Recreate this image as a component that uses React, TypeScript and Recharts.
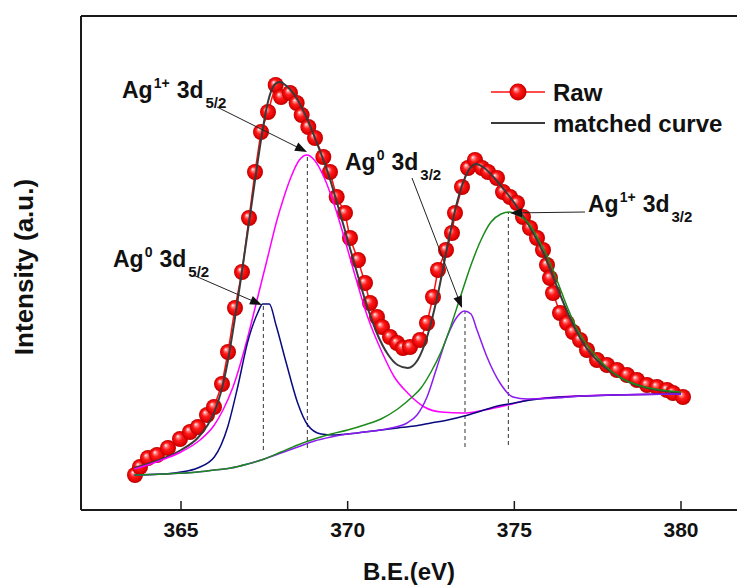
import React from 'react';
import { ComposedChart, Line, XAxis, YAxis, ReferenceLine, ReferenceDot, Legend } from 'recharts';

const FONT = '"Liberation Sans", Arial, Helvetica, sans-serif';

// ---- x axis ticks ----
const xTicks = [365, 370, 375, 380];

// ---- Raw data (B.E. eV / intensity a.u.) ----
const rawE = [363.62, 363.77, 364.01, 364.28, 364.61, 364.97, 365.27, 365.51, 365.78, 365.99, 366.23, 366.41, 366.62, 366.83, 367.04, 367.22, 367.40, 367.61, 367.84, 368.0, 368.27, 368.47, 368.62, 368.82, 369.02, 369.27, 369.47, 369.67, 369.92, 370.07, 370.31, 370.52, 370.67, 370.88, 371.03, 371.27, 371.48, 371.66, 371.87, 372.17, 372.38, 372.56, 372.71, 372.95, 373.13, 373.22, 373.43, 373.61, 373.82, 374.03, 374.21, 374.48, 374.66, 374.87, 375.08, 375.26, 375.47, 375.68, 375.86, 375.98, 376.07, 376.16, 376.37, 376.58, 376.76, 376.97, 377.18, 377.48, 377.78, 378.08, 378.38, 378.68, 378.98, 379.28, 379.58, 379.76, 380.06];
const rawI = [35, 43, 52, 55, 62, 71, 78, 83, 95, 103, 126, 158, 202, 238, 292, 338, 378, 398, 425, 413, 417, 407, 395, 383, 372, 353, 338, 313, 297, 272, 250, 227, 207, 193, 183, 173, 167, 162, 163, 170, 187, 213, 240, 260, 277, 297, 323, 342, 350, 342, 338, 332, 318, 313, 307, 293, 282, 272, 260, 245, 232, 217, 197, 187, 178, 170, 160, 150, 145, 140, 135, 130, 125, 123, 120, 117, 113];

// ---- matched curve ----
const fitE = [363.6, 364.0, 364.5, 365.0, 365.5, 365.8, 366.0, 366.2, 366.4, 366.6, 366.8, 367.0, 367.2, 367.4, 367.6, 367.8, 367.95, 368.2, 368.5, 368.8, 369.1, 369.4, 369.7, 370.0, 370.3, 370.6, 370.9, 371.2, 371.5, 371.8, 372.1, 372.4, 372.7, 373.0, 373.3, 373.6, 373.85, 374.1, 374.4, 374.7, 375.0, 375.3, 375.6, 375.9, 376.2, 376.5, 376.8, 377.1, 377.5, 378.0, 378.5, 379.0, 379.5, 380.0];
const fitI = [42, 46, 52, 60, 72, 85, 98, 118, 148, 188, 232, 278, 325, 370, 407, 425, 428, 423, 410, 390, 365, 338, 305, 270, 235, 202, 175, 156, 145, 142, 150, 175, 215, 265, 310, 338, 346, 342, 332, 320, 307, 292, 275, 255, 230, 205, 183, 165, 149, 136, 127, 122, 119, 117];

// ---- Ag0 3d5/2 component (navy) ----
const ag0d52E = [363.6, 364.5, 365.0, 365.5, 366.0, 366.4, 366.7, 367.0, 367.3, 367.45, 367.65, 367.85, 368.15, 368.5, 368.8, 369.2, 369.6, 370.0, 370.5, 371.0, 371.5, 372.0, 372.5, 373.0, 373.5, 374.0, 374.5, 375.0, 375.5, 376.0, 377.0, 378.0, 380.0];
const ag0d52I = [35, 36, 38, 42, 53, 83, 123, 168, 197, 206, 206, 185, 148, 107, 85, 76, 75, 76, 78, 80, 82, 84, 87, 90, 94, 99, 104, 107, 110, 112, 114, 115, 116];

// ---- Ag1+ 3d5/2 component (magenta) ----
const ag1d52E = [363.6, 364.0, 364.5, 365.0, 365.57, 366.0, 366.26, 366.56, 366.98, 367.28, 367.58, 367.88, 368.06, 368.3, 368.55, 368.78, 369.0, 369.3, 369.6, 369.9, 370.2, 370.6, 371.0, 371.4, 371.8, 372.3, 372.8, 373.5, 374.1, 374.8, 375.4, 376.3, 377.8, 380.0];
const ag1d52I = [41, 45, 51, 58, 70, 85, 100, 123, 170, 210, 250, 290, 310, 333, 350, 355, 350, 332, 305, 272, 237, 193, 160, 133, 117, 103, 98, 97, 100, 105, 110, 113, 115, 116];

// ---- Ag0 3d3/2 component (violet) ----
const ag0d32E = [363.6, 364.5, 365.5, 366.0, 366.5, 367.0, 367.5, 368.0, 368.5, 369.0, 369.5, 370.0, 370.5, 371.0, 371.3, 371.78, 372.08, 372.38, 372.68, 372.98, 373.28, 373.5, 373.7, 373.88, 374.18, 374.57, 374.96, 375.38, 376.28, 377.0, 378.0, 380.0];
const ag0d32I = [35, 36, 38, 40, 42, 46, 51, 57, 63, 69, 73, 76, 78, 80, 82, 87, 95, 113, 143, 173, 193, 199, 196, 180, 153, 127, 113, 111, 112, 114, 115, 116];

// ---- Ag1+ 3d3/2 component (green) ----
const ag1d32E = [363.6, 364.5, 365.5, 366.0, 366.5, 367.0, 367.5, 368.0, 368.5, 369.0, 369.5, 370.0, 370.5, 371.0, 371.5, 371.9, 372.2, 372.5, 372.8, 373.0, 373.4, 373.7, 374.0, 374.3, 374.6, 374.85, 375.1, 375.4, 375.7, 376.0, 376.3, 376.6, 376.9, 377.3, 377.7, 378.2, 378.8, 379.4, 380.0];
const ag1d32I = [35, 36, 38, 40, 42, 46, 51, 58, 65, 71, 76, 80, 85, 91, 101, 112, 122, 138, 158, 175, 215, 245, 270, 288, 296, 298, 295, 288, 272, 253, 228, 202, 180, 160, 145, 132, 124, 120, 118];

// ---- peak positions (dashed markers) ----
const peakE = [367.47, 368.79, 373.52, 374.82];
const peakTop = [207, 355, 199, 298];
const peakBase = [60, 62, 63, 65];

// ---- annotation labels ----
const annSup = ['1+', '0', '0', '1+'];
const annSub = ['5/2', '5/2', '3/2', '3/2'];
const annTextE = [363.23, 362.96, 369.92, 377.21];
const annTextI = [412, 243, 340, 298];
const annFromE = [366.08, 365.36, 371.93, 377.12];
const annFromI = [403, 235, 332, 298];
const annToE = [368.78, 367.43, 373.43, 374.87];
const annToI = [358, 205, 202, 297];

const toPts = (es: number[], vs: number[]) => es.map((e, i) => ({ e, v: vs[i] }));

const rawData = toPts(rawE, rawI);
const fitData = toPts(fitE, fitI);
const navyData = toPts(ag0d52E, ag0d52I);
const magData = toPts(ag1d52E, ag1d52I);
const violetData = toPts(ag0d32E, ag0d32I);
const greenData = toPts(ag1d32E, ag1d32I);

const AXIS = '#1a1a1a';
const TOPZ = 1500;

const renderBall = (p: any) => (
  <circle key={`ball-${p.index}`} cx={p.cx} cy={p.cy} r={8} fill="url(#ballGrad)" />
);

const Arrow = (p: any) => {
  const { x1, y1, x2, y2 } = p;
  const dx = x2 - x1;
  const dy = y2 - y1;
  const len = Math.sqrt(dx * dx + dy * dy) || 1;
  const ux = dx / len;
  const uy = dy / len;
  const L = 12;
  const W = 4.5;
  const bx = x2 - ux * L;
  const by = y2 - uy * L;
  const pts = `${x2},${y2} ${bx - uy * W},${by + ux * W} ${bx + uy * W},${by - ux * W}`;
  return (
    <g>
      <line x1={x1} y1={y1} x2={bx + ux * 2} y2={by + uy * 2} stroke="#222" strokeWidth={1} />
      <polygon points={pts} fill="#111" />
    </g>
  );
};

const makeAnnText = (sup: string, sub: string) => (p: any) => (
  <text x={p.cx} y={p.cy} fontFamily={FONT} fontWeight="bold" fontSize={23} fill="#111">
    <tspan>Ag</tspan>
    <tspan dx={1} dy={-10} fontSize={14}>{sup}</tspan>
    <tspan dx={7} dy={10} fontSize={23}>3d</tspan>
    <tspan dx={2} dy={10} fontSize={15}>{sub}</tspan>
  </text>
);

const renderLegend = () => (
  <svg width={240} height={64} style={{ display: 'block', overflow: 'visible' }}>
    <line x1={3} y1={16} x2={57} y2={16} stroke="#ff1010" strokeWidth={1.5} />
    <circle cx={30} cy={16} r={8.5} fill="url(#ballGrad)" />
    <text x={65} y={24.5} fontSize={24} fontWeight="bold" fontFamily={FONT} fill="#111">Raw</text>
    <line x1={3} y1={47} x2={57} y2={47} stroke="#3a3a3a" strokeWidth={2} />
    <text x={65} y={55.5} fontSize={24} fontWeight="bold" fontFamily={FONT} fill="#111">matched curve</text>
  </svg>
);

export default function App() {
  return (
    <div style={{ position: 'absolute', left: 0, top: 0, width: 737, height: 586, background: '#fff', overflow: 'hidden' }}>
      <ComposedChart width={737} height={586} margin={{ top: 16, right: 0, bottom: 36, left: 41 }}>
        <defs>
          <radialGradient id="ballGrad" cx="50%" cy="50%" r="50%" fx="35%" fy="32%">
            <stop offset="0%" stopColor="#ffffff" />
            <stop offset="18%" stopColor="#ff8a8a" />
            <stop offset="45%" stopColor="#ff1a1a" />
            <stop offset="85%" stopColor="#e00000" />
            <stop offset="100%" stopColor="#b00000" />
          </radialGradient>
        </defs>
        <XAxis
          dataKey="e"
          type="number"
          domain={[362, 381.68]}
          allowDataOverflow
          ticks={xTicks}
          height={40}
          tickSize={-9}
          tickMargin={21}
          axisLine={{ stroke: AXIS, strokeWidth: 2 }}
          tickLine={{ stroke: AXIS, strokeWidth: 1.5 }}
          tick={{ fontSize: 21, fontWeight: 'bold', fill: '#111', fontFamily: FONT }}
          label={{
            content: (props: any) => {
              const vb = props.viewBox || { x: 81, y: 510, width: 656, height: 40 };
              return (
                <text x={vb.x + vb.width / 2} y={vb.y + 70} textAnchor="middle" fontSize={24} fontWeight="bold" fontFamily={FONT} fill="#111">
                  B.E.(eV)
                </text>
              );
            },
          }}
        />
        <YAxis
          type="number"
          domain={[0, 494]}
          allowDataOverflow
          width={40}
          tick={false}
          tickLine={false}
          axisLine={{ stroke: AXIS, strokeWidth: 2 }}
          label={{
            content: (props: any) => {
              const vb = props.viewBox || { x: 41, y: 16, width: 40, height: 494 };
              const cx = vb.x + vb.width - 48;
              const cy = vb.y + vb.height / 2 + 4;
              return (
                <text x={cx} y={cy} transform={`rotate(-90, ${cx}, ${cy})`} textAnchor="middle" fontSize={26} fontWeight="bold" fontFamily={FONT} fill="#111">
                  Intensity (a.u.)
                </text>
              );
            },
          }}
        />
        <ReferenceLine y={494} stroke={AXIS} strokeWidth={2} ifOverflow="visible" />

        <Line data={rawData} dataKey="v" type="linear" stroke="#ff1010" strokeWidth={1.5} dot={renderBall} activeDot={false} isAnimationActive={false} legendType="none" />
        <Line data={fitData} dataKey="v" type="monotone" stroke="#3a3a3a" strokeWidth={2} dot={false} activeDot={false} isAnimationActive={false} legendType="none" zIndex={TOPZ} />
        <Line data={magData} dataKey="v" type="monotone" stroke="#ff00ff" strokeWidth={1.5} dot={false} activeDot={false} isAnimationActive={false} legendType="none" zIndex={TOPZ} />
        <Line data={navyData} dataKey="v" type="monotone" stroke="#0a0a80" strokeWidth={1.5} dot={false} activeDot={false} isAnimationActive={false} legendType="none" zIndex={TOPZ} />
        <Line data={violetData} dataKey="v" type="monotone" stroke="#8a1cf0" strokeWidth={1.5} dot={false} activeDot={false} isAnimationActive={false} legendType="none" zIndex={TOPZ} />
        <Line data={greenData} dataKey="v" type="monotone" stroke="#1a8a1a" strokeWidth={1.5} dot={false} activeDot={false} isAnimationActive={false} legendType="none" zIndex={TOPZ} />

        {peakE.map((e, i) => (
          <ReferenceLine
            key={`pk-${i}`}
            segment={[{ x: e, y: peakBase[i] }, { x: e, y: peakTop[i] }]}
            stroke="#333"
            strokeWidth={1}
            strokeDasharray="4 3"
            ifOverflow="visible"
          />
        ))}
        {annSup.map((s, i) => (
          <ReferenceLine
            key={`arr-${i}`}
            segment={[{ x: annFromE[i], y: annFromI[i] }, { x: annToE[i], y: annToI[i] }]}
            shape={Arrow}
            ifOverflow="visible"
            zIndex={TOPZ + 100}
          />
        ))}
        {annSup.map((s, i) => (
          <ReferenceDot
            key={`txt-${i}`}
            x={annTextE[i]}
            y={annTextI[i]}
            r={0}
            shape={makeAnnText(s, annSub[i])}
            ifOverflow="visible"
            zIndex={TOPZ + 100}
          />
        ))}
        <Legend layout="vertical" align="center" verticalAlign="middle" content={renderLegend} wrapperStyle={{ left: 488, top: 76, width: 240, height: 64 }} />
      </ComposedChart>
    </div>
  );
}
